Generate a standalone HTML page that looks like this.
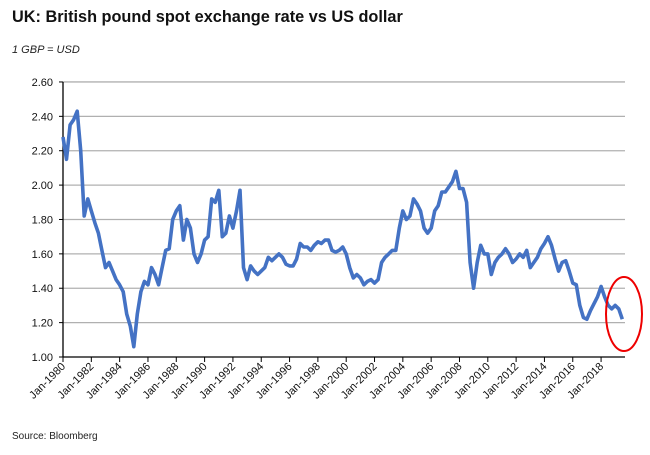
<!DOCTYPE html>
<html><head><meta charset="utf-8"><style>
body{margin:0;background:#fff;font-family:"Liberation Sans",sans-serif}
svg{display:block}
</style></head><body>
<svg id="chart" width="650" height="455">
<text x="12" y="22" font-size="16.3" font-weight="bold" fill="#111">UK: British pound spot exchange rate vs US dollar</text>
<text x="12" y="53" font-size="11" font-style="italic" fill="#222">1 GBP = USD</text>
<text x="12" y="439" font-size="10" fill="#222">Source: Bloomberg</text>
<g id="grid"></g><g id="yticks"></g><g id="xticks"></g>
<polyline id="line" fill="none" stroke="#4472C4" stroke-width="3.6" stroke-linejoin="round"/>
<ellipse cx="624" cy="314" rx="18" ry="37" fill="none" stroke="#e00" stroke-width="2"/>
</svg>
<script>
const yTicks=[1.00,1.20,1.40,1.60,1.80,2.00,2.20,2.40,2.60];
const xTickYears=[1980,1982,1984,1986,1988,1990,1992,1994,1996,1998,2000,2002,2004,2006,2008,2010,2012,2014,2016,2018];
const startYear=1980;
const rates=[2.28,2.15,2.35,2.38, 2.43,2.20,1.82,1.92, 1.85,1.78,1.72,1.62, 1.52,1.55,1.50,1.45, 1.42,1.38,1.25,1.18,
1.06,1.25,1.38,1.44, 1.42,1.52,1.48,1.42, 1.52,1.62,1.63,1.80, 1.85,1.88,1.68,1.80, 1.75,1.60,1.55,1.60,
1.68,1.70,1.92,1.90, 1.97,1.70,1.72,1.82, 1.75,1.85,1.97,1.52, 1.45,1.53,1.50,1.48, 1.50,1.52,1.58,1.56,
1.58,1.60,1.58,1.54, 1.53,1.53,1.57,1.66, 1.64,1.64,1.62,1.65, 1.67,1.66,1.68,1.68, 1.62,1.61,1.62,1.64,
1.60,1.52,1.46,1.48, 1.46,1.42,1.44,1.45, 1.43,1.45,1.55,1.58, 1.60,1.62,1.62,1.75, 1.85,1.80,1.82,1.92,
1.89,1.85,1.75,1.72, 1.75,1.85,1.88,1.96, 1.96,1.99,2.02,2.08, 1.98,1.98,1.90,1.55, 1.40,1.55,1.65,1.60,
1.60,1.48,1.55,1.58, 1.60,1.63,1.60,1.55, 1.57,1.60,1.58,1.62, 1.52,1.55,1.58,1.63, 1.66,1.70,1.65,1.57,
1.50,1.55,1.56,1.50, 1.43,1.42,1.30,1.23, 1.22,1.27,1.31,1.35, 1.41,1.35,1.30,1.28, 1.30,1.28,1.22];
const NS='http://www.w3.org/2000/svg';
const X0=63,PX_YR=14.16,Y0=357,PX_UNIT=171.9;
const xs=yr=>X0+(yr-startYear)*PX_YR;
const ys=v=>Y0-(v-1.0)*PX_UNIT;
function mk(t,a,p){const e=document.createElementNS(NS,t);for(const k in a)e.setAttribute(k,a[k]);p.appendChild(e);return e;}
const grid=document.getElementById('grid'),yg=document.getElementById('yticks'),xg=document.getElementById('xticks');
yTicks.forEach(v=>{
  if(v>1.0){const l=mk('line',{x1:X0,x2:625,y1:ys(v),y2:ys(v),stroke:'#b0b0b0','stroke-width':1.3},grid);
  
  }
  const tk=mk('line',{x1:X0-4,x2:X0,y1:ys(v),y2:ys(v),stroke:'#000'},yg);
  
  
  const t=mk('text',{x:X0-10,y:ys(v)+4,'text-anchor':'end','font-size':11,fill:'#111'},yg);
  t.textContent=v.toFixed(2);
  
  
});
const ax=mk('line',{x1:X0,x2:X0,y1:ys(2.6),y2:Y0,stroke:'#000','stroke-width':1.3},yg);


const bx=mk('line',{x1:X0,x2:625,y1:Y0,y2:Y0,stroke:'#000','stroke-width':1.3},xg);


xTickYears.forEach(yr=>{
  const x=xs(yr);
  const tk=mk('line',{x1:x,x2:x,y1:Y0,y2:Y0+5,stroke:'#000'},xg);
  
  
  const t=mk('text',{x:x+3,y:Y0+10,'text-anchor':'end','font-size':11,fill:'#111',transform:`rotate(-45 ${x+3} ${Y0+10})`},xg);
  t.textContent='Jan-'+yr;
  
  
});
document.getElementById('line').setAttribute('points',rates.map((v,i)=>xs(startYear+i*0.25).toFixed(1)+','+ys(v).toFixed(1)).join(' '));
</script>
</body></html>
